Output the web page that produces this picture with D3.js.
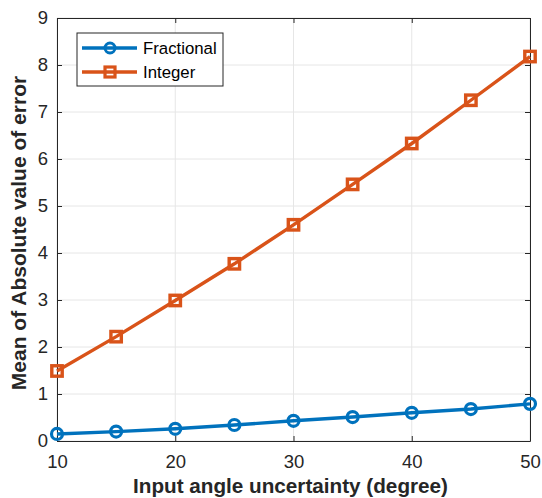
<!DOCTYPE html>
<html><head><meta charset="utf-8">
<script src="https://cdn.jsdelivr.net/npm/d3@7"></script>
<style>body{margin:0;background:#fff}</style>
</head><body>
<svg id="c" width="542" height="498"></svg>
<script>
const xValues = [10,15,20,25,30,35,40,45,50];
const fractional = [0.15,0.20,0.26,0.34,0.43,0.51,0.60,0.68,0.79];
const integer = [1.49,2.22,2.99,3.77,4.60,5.46,6.33,7.25,8.18];
const xTicks = [10,20,30,40,50];
const yTicks = [0,1,2,3,4,5,6,7,8,9];
const seriesNames = ["Fractional","Integer"];
const colors = ["#0072BD","#D95319"];

const svg = d3.select("#c");
const L=57,R=530,T=18,B=441;
const x = d3.scaleLinear().domain([10,50]).range([L,R]);
const y = d3.scaleLinear().domain([0,9]).range([B,T]);
const font = "Liberation Sans, Arial, Helvetica, sans-serif";

// grid
const g = svg.append("g");
g.selectAll(".gx").data(xTicks).enter().append("line")
 .attr("x1",d=>x(d)).attr("x2",d=>x(d)).attr("y1",T).attr("y2",B)
 .attr("stroke","#e6e6e6").attr("stroke-width",1);
g.selectAll(".gy").data(yTicks).enter().append("line")
 .attr("y1",d=>y(d)).attr("y2",d=>y(d)).attr("x1",L).attr("x2",R)
 .attr("stroke","#e6e6e6").attr("stroke-width",1);

// axes
const ax = svg.append("g").attr("transform",`translate(0,${B})`)
 .call(d3.axisBottom(x).tickValues(xTicks).tickSizeInner(-5).tickSizeOuter(0).tickPadding(14));
const axT = svg.append("g").attr("transform",`translate(0,${T})`)
 .call(d3.axisTop(x).tickValues(xTicks).tickSizeInner(-5).tickSizeOuter(0).tickFormat(""));
const ay = svg.append("g").attr("transform",`translate(${L},0)`)
 .call(d3.axisLeft(y).tickValues(yTicks).tickSizeInner(-5).tickSizeOuter(0).tickPadding(9));
const ayR = svg.append("g").attr("transform",`translate(${R},0)`)
 .call(d3.axisRight(y).tickValues(yTicks).tickSizeInner(-5).tickSizeOuter(0).tickFormat(""));
[ax,axT,ay,ayR].forEach(a=>{
  a.selectAll("path").attr("stroke","#262626").attr("stroke-width",1);
  a.selectAll("line").attr("stroke","#262626");
  a.selectAll("text").attr("fill","#262626").style("font-family",font).style("font-size","18.5px");
});

// lines
const data = [fractional, integer];
const line = d3.line().x((d,i)=>x(xValues[i])).y(d=>y(d));
data.forEach((s,k)=>{
  svg.append("path").datum(s).attr("d",line).attr("fill","none")
   .attr("stroke",colors[k]).attr("stroke-width",3.4);
  if(k===0){
    svg.selectAll(".m0").data(s).enter().append("circle")
     .attr("cx",(d,i)=>x(xValues[i])).attr("cy",d=>y(d)).attr("r",5.5)
     .attr("fill","none").attr("stroke",colors[k]).attr("stroke-width",3.2);
  } else {
    svg.selectAll(".m1").data(s).enter().append("rect")
     .attr("x",(d,i)=>x(xValues[i])-5.2).attr("y",d=>y(d)-5.2).attr("width",10.4).attr("height",10.4)
     .attr("fill","none").attr("stroke",colors[k]).attr("stroke-width",3.4);
  }
});

// legend
const lg = svg.append("g");
lg.append("rect").attr("x",77).attr("y",33).attr("width",146).attr("height",53)
 .attr("fill","#fff").attr("stroke","#262626").attr("stroke-width",1);
seriesNames.forEach((n,k)=>{
  const yy = 48 + k*24;
  lg.append("line").attr("x1",82).attr("x2",137).attr("y1",yy).attr("y2",yy)
   .attr("stroke",colors[k]).attr("stroke-width",3.4);
  if(k===0) lg.append("circle").attr("cx",110).attr("cy",yy).attr("r",5).attr("fill","none")
     .attr("stroke",colors[k]).attr("stroke-width",3);
  else lg.append("rect").attr("x",105).attr("y",yy-5).attr("width",10).attr("height",10)
     .attr("fill","none").attr("stroke",colors[k]).attr("stroke-width",3.2);
  lg.append("text").attr("x",143).attr("y",yy+6).text(n)
   .style("font-family",font).style("font-size","16.8px").attr("fill","#000");
});

// labels
svg.append("text").attr("x",290.5).attr("y",493).attr("text-anchor","middle")
 .style("font-family",font).style("font-size","20.7px").style("font-weight","bold")
 .attr("fill","#262626").text("Input angle uncertainty (degree)");
svg.append("text").attr("transform",`translate(26,233) rotate(-90)`).attr("text-anchor","middle")
 .style("font-family",font).style("font-size","21px").style("font-weight","bold")
 .attr("fill","#262626").text("Mean of Absolute value of error");
</script>
</body></html>
